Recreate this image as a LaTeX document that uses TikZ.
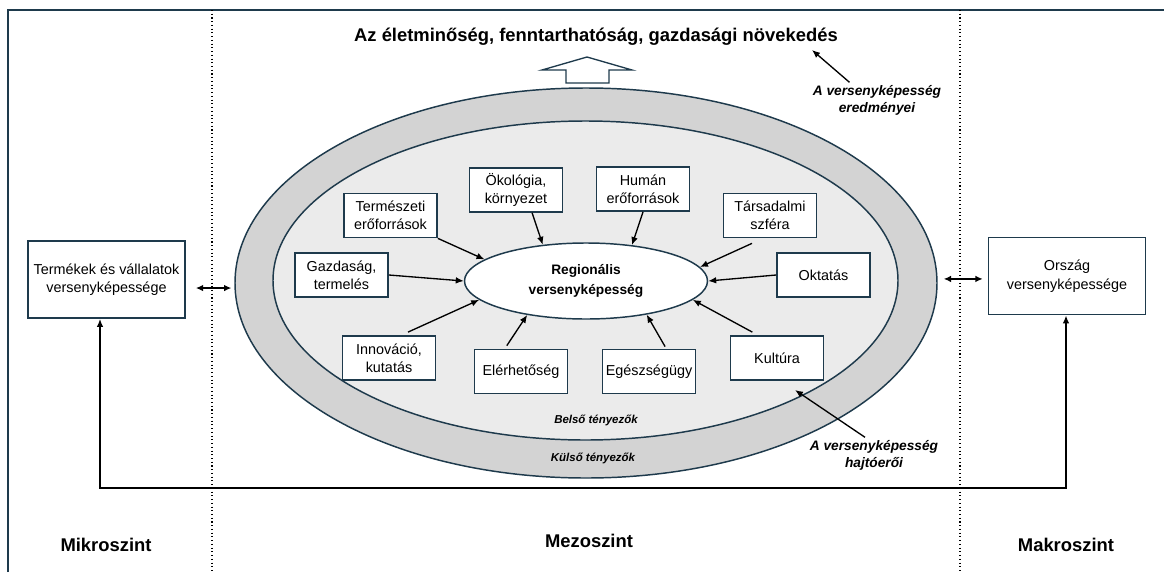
\documentclass[tikz,border=0pt]{standalone}
\usepackage{fontspec}
\setmainfont{Liberation Sans}
\usetikzlibrary{shapes.geometric,arrows.meta,calc}
\definecolor{navy}{HTML}{1E3A4C}
\definecolor{ringgray}{HTML}{D3D3D3}
\definecolor{corefill}{HTML}{EBEBEB}
\tikzset{
  factor/.style={draw=navy,line width=1.3pt,fill=white,align=center,
    minimum width=69.75pt,minimum height=33pt,inner sep=1pt,
    font=\fontsize{10.8}{13.8}\selectfont},
  levelbox/.style={factor,minimum width=117.75pt,minimum height=57.75pt},
  levelname/.style={font=\fontsize{13.8}{16}\selectfont\bfseries},
  note/.style={align=center,font=\fontsize{10.3}{12.8}\selectfont\bfseries\itshape},
  ring/.style={ellipse,draw=navy,line width=1.1pt,inner sep=0pt},
  inarrow/.style={line width=1pt,-{Latex[length=6pt,width=5pt]}},
  twoway/.style={line width=1pt,{Latex[length=5.5pt,width=5pt]}-{Latex[length=5.5pt,width=5pt]}},
  feedback/.style={line width=1.3pt,{Latex[length=6pt,width=5pt]}-{Latex[length=6pt,width=5pt]}},
  divider/.style={line width=0.8pt,dotted},
}
\begin{document}
\begin{tikzpicture}[x=0.75pt,y=-0.75pt]
\useasboundingbox (0,0) rectangle (1164,572);

% frame and level dividers
\draw[navy,line width=0.8pt] (8,572) -- (8,10) -- (1164,10);
\draw[divider] (212,10) -- (212,572);
\draw[divider] (960,10) -- (960,572);

% external and internal factor rings
\node[ring,fill=ringgray,minimum width=526.5pt,minimum height=292.5pt] (outer) at (586,283) {};
\node[ring,fill=corefill,minimum width=468.75pt,minimum height=239.25pt] (inner) at (585.5,280.5) {};
\node[ring,fill=white,minimum width=182.25pt,minimum height=57pt,
  font=\fontsize{10.3}{14.5}\selectfont\bfseries,align=center] (reg) at (586,281)
  {Regionális\\versenyképesség};

\node[font=\fontsize{8.6}{10}\selectfont\bfseries\itshape] (belso) at (596,420) {Belső tényezők};
\node[font=\fontsize{8.6}{10}\selectfont\bfseries\itshape] (kulso) at (593,458) {Külső tényezők};

% outcome block arrow and title
\draw[navy,line width=1pt,fill=white] (542,70) -- (587,57) -- (632,70) -- (609,70)
  -- (609,83) -- (566,83) -- (566,70) -- cycle;
\node[font=\fontsize{13.8}{16}\selectfont\bfseries] (title) at (596,37)
  {Az életminőség, fenntarthatóság, gazdasági növekedés};

% factors
\node[factor] (term) at (390.5,215.5) {Természeti\\erőforrások};
\node[factor] (okol) at (516,190) {Ökológia,\\környezet};
\node[factor] (human) at (643,189) {Humán\\erőforrások};
\node[factor] (tars) at (770,215.5) {Társadalmi\\szféra};
\node[factor] (gazd) at (341.5,275) {Gazdaság,\\termelés};
\node[factor] (okt) at (823.5,275) {Oktatás};
\node[factor] (innov) at (389,358) {Innováció,\\kutatás};
\node[factor] (eler) at (521,371.5) {Elérhetőség};
\node[factor] (egesz) at (649,371.5) {Egészségügy};
\node[factor] (kult) at (777,358) {Kultúra};

\draw[inarrow] (term.south east) -- (reg.168);
\draw[inarrow] ($(okol.south west)!0.67!(okol.south east)$) -- (reg.140);
\draw[inarrow] (human.south) -- (reg.38);
\draw[inarrow] ($(tars.south west)!0.31!(tars.south east)+(0,5)$) -- (reg.7);
\draw[inarrow] (okt.west) -- (reg.east);
\draw[inarrow] ($(kult.north west)!0.24!(kult.north east)+(0,-3)$) -- (reg.-10);
\draw[inarrow] ($(egesz.north west)!0.67!(egesz.north east)+(0,-2)$) -- (reg.-29);
\draw[inarrow] ($(eler.north west)!0.35!(eler.north east)+(0,-3)$) -- (reg.-150);
\draw[inarrow] ($(innov.north west)!0.7!(innov.north east)+(0,-3)$) -- (reg.190);
\draw[inarrow] (gazd.east) -- (reg.west);

% levels
\node[levelbox] (termek) at (106.5,279.5) {Termékek és vállalatok\\versenyképessége};
\node[levelbox] (orszag) at (1067,276) {Ország\\versenyképessége};

\draw[twoway] ([xshift=7.5pt,yshift=-6.4pt]termek.east) -- ([xshift=-2.2pt,yshift=-6.4pt]termek.east -| outer.west);
\draw[twoway] ([xshift=4.5pt,yshift=-2.2pt]orszag.west -| outer.east) -- ([xshift=-3.7pt,yshift=-2.2pt]orszag.west);

\coordinate (fbR) at (1066,488);
\coordinate (fbL) at (100,488);
\draw[feedback] (orszag.south -| fbR) -- (fbR) -- (fbL) -- (termek.south -| fbL);

% annotations
\node[note] (eredm) at (877,100) {A versenyképesség\\eredményei};
\coordinate (eredmTip) at (812,50);
\draw[inarrow] ($(eredm.north west)!0.3!(eredm.north east)+(0,2)$) -- (eredmTip);

\node[note] (hajto) at (874,455) {A versenyképesség\\hajtóerői};
\coordinate (hajtoTip) at (795,390);
\draw[inarrow] ($(hajto.north west)!0.5!(hajto.north east)+(-9,2)$) -- (hajtoTip);

\node[levelname] (mikro) at (106,545) {Mikroszint};
\node[levelname] (mezo) at (589,541) {Mezoszint};
\node[levelname] (makro) at (1066,545) {Makroszint};
\end{tikzpicture}
\end{document}
